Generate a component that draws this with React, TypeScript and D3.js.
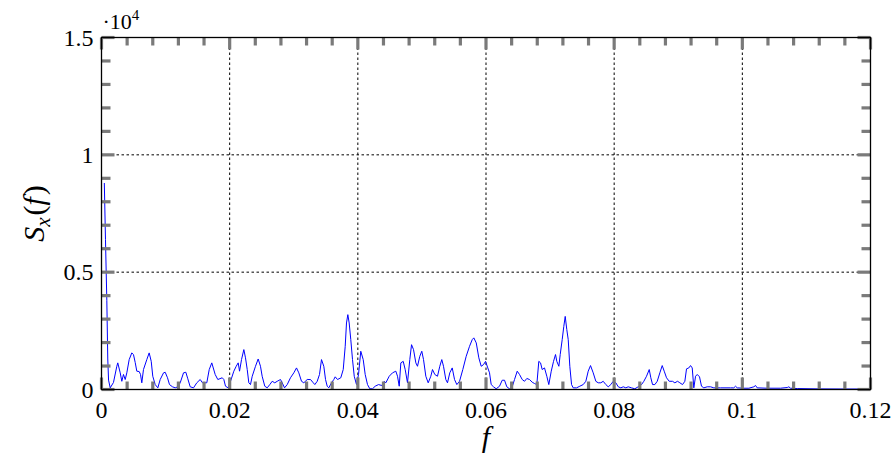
import React from 'react';
import * as d3 from 'd3';

// spectrum (f, S_x(f))
const freqs = [
  0.00044, 0.00062, 0.00083, 0.00098, 0.0011, 0.00136, 0.00187, 0.00239, 0.00254, 0.00292,
  0.00317, 0.00343, 0.0037, 0.00395, 0.00432, 0.00473, 0.00499, 0.00526, 0.00551, 0.00588,
  0.00609, 0.00629, 0.00655, 0.00707, 0.00744, 0.00776, 0.008, 0.00838, 0.00879, 0.00916,
  0.00968, 0.00994, 0.0103, 0.01061, 0.01108, 0.0115, 0.01191, 0.01228, 0.0128, 0.01316,
  0.01347, 0.01384, 0.01436, 0.01487, 0.0154, 0.01576, 0.01643, 0.01681, 0.01721, 0.01774,
  0.01815, 0.01884, 0.01909, 0.01935, 0.01977, 0.02013, 0.02065, 0.02102, 0.02133, 0.02154,
  0.02185, 0.02221, 0.02247, 0.02274, 0.02299, 0.02325, 0.02352, 0.02403, 0.02445, 0.02481,
  0.02507, 0.02548, 0.02586, 0.02626, 0.02664, 0.02704, 0.02742, 0.02793, 0.0282, 0.02856,
  0.02898, 0.02949, 0.03001, 0.03043, 0.03079, 0.03121, 0.03157, 0.0321, 0.03262, 0.03297,
  0.03329, 0.03366, 0.03402, 0.03433, 0.03469, 0.03496, 0.03522, 0.03547, 0.03589, 0.03625,
  0.03647, 0.03683, 0.03734, 0.03772, 0.03803, 0.03823, 0.03844, 0.03865, 0.0389, 0.03917,
  0.03944, 0.03979, 0.04011, 0.04046, 0.04084, 0.04115, 0.04151, 0.04187, 0.04229, 0.04271,
  0.04323, 0.04374, 0.04412, 0.04437, 0.0449, 0.04541, 0.04593, 0.04619, 0.04646, 0.04671,
  0.04708, 0.04739, 0.04775, 0.04811, 0.04838, 0.04869, 0.04905, 0.04931, 0.04967, 0.04998,
  0.05025, 0.05061, 0.05098, 0.05139, 0.05165, 0.05201, 0.05243, 0.05279, 0.0531, 0.05337,
  0.05373, 0.05399, 0.05435, 0.05473, 0.05509, 0.05545, 0.05587, 0.05638, 0.05691, 0.05743,
  0.05785, 0.0581, 0.05848, 0.05888, 0.05925, 0.05961, 0.05993, 0.06028, 0.06055, 0.06081,
  0.06117, 0.06159, 0.06211, 0.06253, 0.06289, 0.06325, 0.06367, 0.06409, 0.06445, 0.06487,
  0.06523, 0.06565, 0.06601, 0.06637, 0.06679, 0.06721, 0.06757, 0.06793, 0.06824, 0.06851,
  0.06877, 0.06913, 0.06949, 0.0698, 0.07018, 0.07054, 0.07085, 0.07105, 0.07137, 0.07158,
  0.07189, 0.07214, 0.07236, 0.07261, 0.07283, 0.07308, 0.07335, 0.07361, 0.07413, 0.07464,
  0.07517, 0.07558, 0.07595, 0.07631, 0.07673, 0.07714, 0.07751, 0.07792, 0.07829, 0.0787,
  0.07907, 0.07948, 0.07985, 0.08026, 0.08064, 0.08104, 0.08142, 0.08182, 0.08219, 0.08271,
  0.08322, 0.08375, 0.08427, 0.08463, 0.08505, 0.08547, 0.08572, 0.08599, 0.08635, 0.08672,
  0.08713, 0.0875, 0.08781, 0.08817, 0.08859, 0.0891, 0.08947, 0.08989, 0.09025, 0.09067,
  0.09103, 0.09129, 0.09165, 0.09192, 0.09218, 0.09243, 0.0927, 0.09296, 0.09332, 0.09363,
  0.09399, 0.09452, 0.09504, 0.09555, 0.09659, 0.09815, 0.09867, 0.09894, 0.0992, 0.10024,
  0.10102, 0.1018, 0.10206, 0.10232, 0.10388, 0.10596, 0.10701, 0.10726, 0.10752, 0.10857,
  0.112, 0.116, 0.12,
];

const power = [
  8800, 6400, 3800, 1300, 400, 70, 300, 990, 1135, 710,
  350, 640, 425, 710, 1275, 1560, 1490, 1150, 780, 765,
  640, 285, 850, 1275, 1560, 1200, 565, 210, 70, 425,
  710, 735, 500, 210, 115, 70, 115, 285, 710, 735,
  455, 115, 70, 285, 425, 285, 285, 850, 1135, 640,
  425, 500, 425, 140, 70, 350, 780, 990, 1135, 780,
  1275, 1700, 1350, 850, 285, 210, 565, 990, 1300, 990,
  565, 140, 70, 210, 350, 285, 350, 425, 285, 70,
  210, 500, 710, 920, 710, 350, 285, 425, 425, 310,
  210, 350, 640, 1275, 990, 425, 140, 70, 285, 425,
  540, 425, 500, 850, 1840, 2835, 3190, 2835, 2125, 1275,
  565, 210, 640, 1630, 1275, 640, 210, 30, 30, 140,
  210, 170, 350, 285, 565, 710, 780, 565, 140, 1135,
  1200, 850, 285, 1275, 1910, 1700, 1135, 990, 1415, 1630,
  1275, 565, 285, 565, 850, 640, 565, 990, 1275, 990,
  425, 285, 710, 920, 425, 210, 350, 850, 1415, 1840,
  2125, 2200, 1985, 1350, 990, 1060, 1200, 920, 710, 210,
  115, 30, 140, 395, 395, 115, 30, 115, 425, 780,
  640, 425, 350, 470, 425, 310, 255, 210, 1200, 1135,
  850, 920, 565, 210, 780, 1200, 1490, 1200, 990, 1490,
  2125, 2690, 3115, 2550, 2125, 990, 210, 70, 70, 140,
  210, 350, 780, 1020, 710, 350, 285, 285, 350, 210,
  115, 210, 350, 285, 115, 70, 115, 70, 115, 70,
  30, 115, 210, 350, 565, 850, 500, 210, 210, 350,
  710, 1020, 780, 500, 350, 350, 285, 350, 285, 210,
  350, 880, 920, 1020, 920, 70, 565, 640, 540, 140,
  70, 115, 115, 70, 70, 70, 70, 140, 70, 55,
  55, 115, 170, 70, 55, 55, 85, 115, 55, 40,
  25, 20, 20,
];

const xTickValues = [0, 0.02, 0.04, 0.06, 0.08, 0.1, 0.12];
const xTickLabels = ['0', '0.02', '0.04', '0.06', '0.08', '0.1', '0.12'];
const yTickValues = [0, 5000, 10000, 15000];
const yTickLabels = ['0', '0.5', '1', '1.5'];

const W = 896;
const H = 463;
const FONT = 'Liberation Serif';

const left = 101.5, right = 870.5, top = 37.5, bottom = 389.5;
const x = d3.scaleLinear().domain([0, 0.12]).range([left, right]);
const y = d3.scaleLinear().domain([0, 15000]).range([bottom, top]);

const SpectrumChart = () => {
  const pts = freqs.map((f, i) => [f, power[i]] as [number, number]);
  const linePath = d3.line<[number, number]>().x(d => x(d[0])).y(d => y(d[1]))(pts) || '';
  const xMinor = d3.range(0, 31).map(i => i * 0.004);
  const yMinor = d3.range(0, 16).map(i => i * 1000);
  const tick = '#7a7a7a';

  return (
    <svg
      width={W}
      height={H}
      className="spec"
      fontFamily={FONT}
      style={{ position: 'absolute', left: 0, top: 0, background: '#fff' }}
    >
      <style>{`.spec text, .spec tspan { font-family: 'Liberation Serif', 'Times New Roman', Times !important; }`}</style>
      {/* grid */}
      <g stroke="#000" strokeWidth={1} strokeDasharray="2.5,2.5">
        {xTickValues.slice(1, -1).map(v => (
          <line key={'gx' + v} x1={x(v)} x2={x(v)} y1={top} y2={bottom} />
        ))}
        {yTickValues.slice(1, -1).map(v => (
          <line key={'gy' + v} x1={left} x2={right} y1={y(v)} y2={y(v)} />
        ))}
      </g>

      <path d={linePath} fill="none" stroke="#0000ff" strokeWidth={1} strokeLinejoin="round" />

      {/* inward ticks */}
      <g stroke={tick} strokeWidth={3.2}>
        {xMinor.map((v, i) => {
          const len = i % 5 === 0 ? 12 : 8;
          return (
            <g key={'xt' + i}>
              <line x1={x(v)} x2={x(v)} y1={bottom} y2={bottom - len} />
              <line x1={x(v)} x2={x(v)} y1={top} y2={top + len} />
            </g>
          );
        })}
        {yMinor.map((v, i) => {
          const len = i % 5 === 0 ? 13 : 9;
          return (
            <g key={'yt' + i}>
              <line x1={left} x2={left + len} y1={y(v)} y2={y(v)} />
              <line x1={right} x2={right - len} y1={y(v)} y2={y(v)} />
            </g>
          );
        })}
      </g>

      <rect x={left} y={top} width={right - left} height={bottom - top} fill="none" stroke="#000" strokeWidth={1.3} />

      {xTickValues.map((v, i) => (
        <text key={'xl' + i} x={x(v)} y={bottom + 28} textAnchor="middle" fontFamily={FONT} fontSize={24}>
          {xTickLabels[i]}
        </text>
      ))}
      {yTickValues.map((v, i) => (
        <text key={'yl' + i} x={left - 8} y={y(v) + 8} textAnchor="end" fontFamily={FONT} fontSize={24}>
          {yTickLabels[i]}
        </text>
      ))}

      <text x={left + 1} y={29} fontFamily={FONT} fontSize={22}>
        ·10<tspan dy={-9} fontSize={15}>4</tspan>
      </text>

      <text x={(left + right) / 2} y={447} textAnchor="middle" fontFamily={FONT} fontSize={30} fontStyle="italic">
        f
      </text>

      <text
        transform={`translate(44, ${(top + bottom) / 2}) rotate(-90)`}
        textAnchor="middle"
        fontFamily={FONT}
        fontSize={30}
      >
        <tspan fontStyle="italic">S</tspan>
        <tspan dy={6} fontStyle="italic" fontSize={21}>x</tspan>
        <tspan dy={-6} dx={2}>(</tspan>
        <tspan fontStyle="italic">f</tspan>
        <tspan dx={2}>)</tspan>
      </text>
    </svg>
  );
}

export default function App() {
  return <SpectrumChart />;
}
